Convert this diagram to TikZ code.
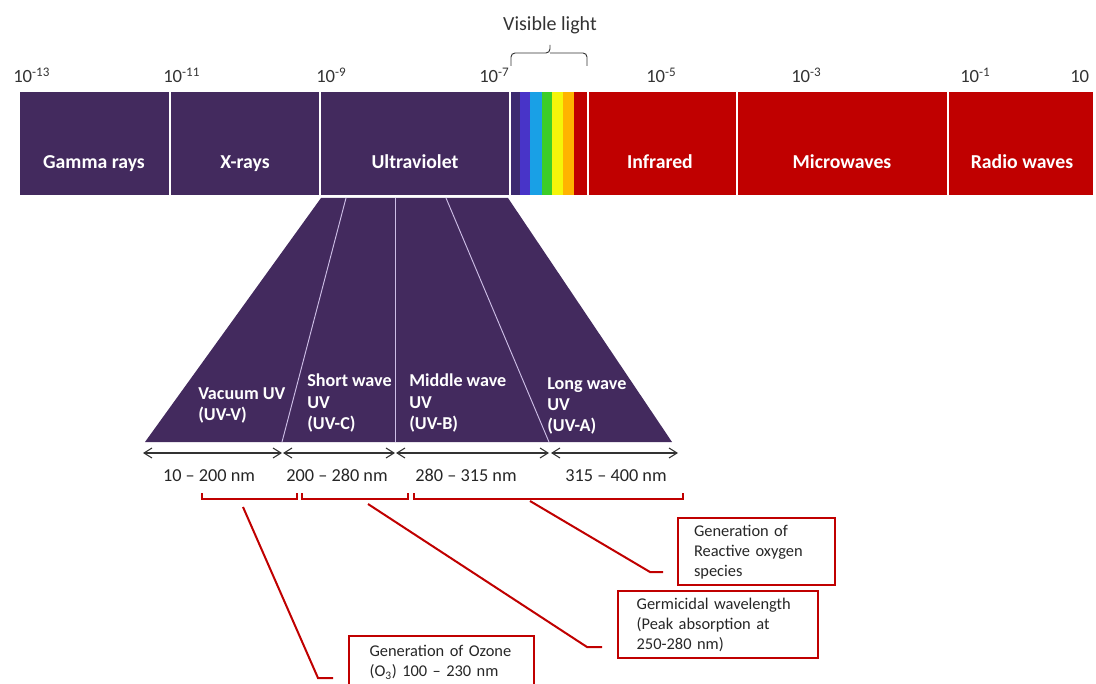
\documentclass[tikz,border=0pt]{standalone}
\usepackage{fontspec}
\setmainfont{Carlito}
\usetikzlibrary{arrows.meta}

\definecolor{uvpurple}{RGB}{67,42,94}
\definecolor{irred}{RGB}{192,0,0}
\definecolor{visA}{RGB}{60,42,112}
\definecolor{visB}{RGB}{72,52,200}
\definecolor{visC}{RGB}{25,160,230}
\definecolor{visD}{RGB}{60,205,40}
\definecolor{visE}{RGB}{245,245,10}
\definecolor{visF}{RGB}{255,180,0}
\definecolor{uvline}{RGB}{205,190,230}

\begin{document}
\begin{tikzpicture}[x=0.75pt,y=-0.75pt]
        \tikzset{
            band/.style={font=\fontsize{14.8}{17}\selectfont\bfseries, text=white, anchor=base},
            uvband/.style={font=\fontsize{13.6}{16}\selectfont\bfseries, text=white, align=left, anchor=north west, inner sep=0pt},
            power/.style={font=\fontsize{14}{16}\selectfont, text=black!80, anchor=base west, inner sep=0pt},
            nmrange/.style={font=\fontsize{13.7}{16}\selectfont, text=black!85, anchor=base},
            spanarrow/.style={{Straight Barb[length=6pt,width=7.5pt]}-{Straight Barb[length=6pt,width=7.5pt]}, line width=0.8pt, black!80},
            bracket/.style={irred, line width=1.5pt},
            callout/.style={irred, line width=1.5pt},
            notebox/.style={draw=irred, line width=1.5pt, align=left, anchor=north west,
                font=\fontsize{12.3}{15}\selectfont, text=black!85, inner ysep=5pt}
        }
        \clip (0,0) rectangle (1096,684);

        % the spectrum bar
        \fill[uvpurple] (20,92) rectangle (169,195);
        \fill[uvpurple] (171,92) rectangle (319,195);
        \fill[uvpurple] (321,92) rectangle (509,195);
        \foreach \xa/\xb/\col in {511/520/visA, 520/530/visB, 530/542/visC, 542/552/visD,
                                  552/563/visE, 563/574/visF, 574/587/irred}
            \fill[\col] (\xa,92) rectangle (\xb,195);
        \fill[irred] (589,92) rectangle (736,195);
        \fill[irred] (738,92) rectangle (947,195);
        \fill[irred] (949,92) rectangle (1093,195);

        \node[band] (gamma) at (94,169) {Gamma rays};
        \node[band] (xray) at (245,169) {X-rays};
        \node[band] (uv) at (415,169) {Ultraviolet};
        \node[band] (ir) at (660,169) {Infrared};
        \node[band] (micro) at (842,169) {Microwaves};
        \node[band] (radio) at (1022,169) {Radio waves};

        % wavelengths
        \foreach \x/\e [count=\i] in {13/-13, 163/-11, 316/-9, 479/-7, 646/-5, 791/-3, 960/-1}
            \node[power] (p\i) at (\x,83) {10\textsuperscript{\e}};
        \node[power] (p8) at (1070,83) {10};

        \draw[black!80, line width=0.7pt, rounded corners=3pt] (511,66) |- (550,53) -- (550,45);
        \draw[black!80, line width=0.7pt, rounded corners=3pt] (550,53) -| (587,66);
        \node[font=\fontsize{15}{17}\selectfont, text=black!80, anchor=base] (vis) at (550,31) {Visible light};

        % zoom into the UV part
        \fill[uvpurple] (321,198) -- (508,198) -- (672,442) -- (145,442) -- cycle;
        \draw[uvline, line width=0.7pt] (346,198) -- (282,442);
        \draw[uvline, line width=0.7pt] (395.5,198) -- (395.5,442);
        \draw[uvline, line width=0.7pt] (446,198) -- (549,442);

        \node[uvband] (uvv) at (198,387) {Vacuum UV\\(UV-V)};
        \node[uvband] (uvc) at (307,374) {Short wave\\UV\\(UV-C)};
        \node[uvband] (uvb) at (409,374) {Middle wave\\UV\\(UV-B)};
        \node[uvband] (uva) at (547,377) {Long wave\\UV\\(UV-A)};

        \draw[spanarrow] (143,453) -- (282,453);
        \draw[spanarrow] (283,453) -- (395,453);
        \draw[spanarrow] (396,453) -- (549,453);
        \draw[spanarrow] (551,453) -- (678,453);

        \node[nmrange] (r1) at (209,481) {10 – 200 nm};
        \node[nmrange] (r2) at (337,481) {200 – 280 nm};
        \node[nmrange] (r3) at (466,481) {280 – 315 nm};
        \node[nmrange] (r4) at (616,481) {315 – 400 nm};

        % brackets and notes
        \draw[bracket] (202,493) -- (202,499) -- (297,499) -- (297,493);
        \draw[bracket] (302,493) -- (302,499) -- (408,499) -- (408,493);
        \draw[bracket] (414,493) -- (414,499) -- (683,499) -- (683,493);

        \node[notebox, text width=108pt, inner xsep=15.4pt, inner ysep=7pt] (ozone) at (348,635)
            {Generation of Ozone\\(O\textsubscript{3}) 100 – 230 nm};
        \node[notebox, text width=122pt, inner xsep=14pt] (germ) at (617,590)
            {Germicidal wavelength\\(Peak absorption at\\250-280 nm)};
        \node[notebox, text width=93.75pt, inner xsep=12pt] (ros) at (677,517)
            {Generation of\\Reactive oxygen\\species};

        \coordinate (o3from) at (243,507);
        \coordinate (o3knee) at (318,678);
        \coordinate (o3end) at (333,678);
        \coordinate (gfrom) at (368,504);
        \coordinate (gknee) at (587,647);
        \coordinate (gend) at (602,647);
        \coordinate (rfrom) at (530,501);
        \coordinate (rknee) at (650,572);
        \coordinate (rend) at (663,572);
        \draw[callout] (o3from) -- (o3knee) -- (o3end);
        \draw[callout] (gfrom) -- (gknee) -- (gend);
        \draw[callout] (rfrom) -- (rknee) -- (rend);
\end{tikzpicture}
\end{document}
